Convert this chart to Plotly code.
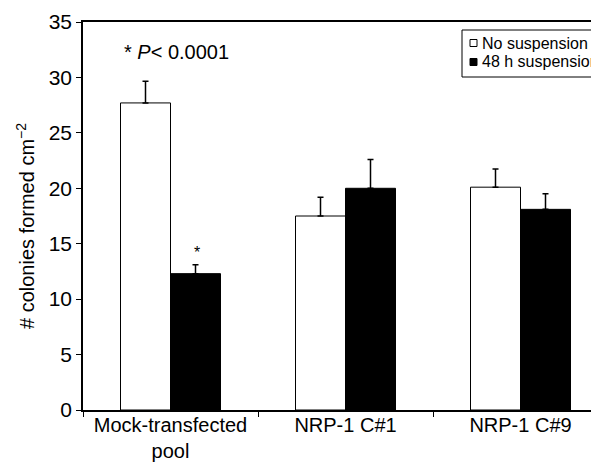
import plotly.graph_objects as go

categories = ["Mock-transfected<br>pool", "NRP-1 C#1", "NRP-1 C#9"]
no_susp = [27.7, 17.5, 20.1]
no_susp_err = [1.95, 1.7, 1.65]
susp48 = [12.3, 20.0, 18.1]
susp48_err = [0.8, 2.6, 1.4]
series_names = ["No suspension", "48 h suspension"]
y_ticks = [0, 5, 10, 15, 20, 25, 30, 35]

FONT = "Liberation Sans, Arial, sans-serif"

OFF = 8  # page body margin
W, H = 599 - OFF, 463 - OFF
ML, MR, MT, MB = 83 - OFF, 0, 22 - OFF, 53
pw = W - ML - MR
ph = H - MT - MB
cat_px = 175.0

fig = go.Figure()
fig.add_trace(go.Bar(
    x=categories, y=no_susp, name=series_names[0],
    marker=dict(color="white", line=dict(color="black", width=1)),
    error_y=dict(type="data", array=no_susp_err, arrayminus=[0]*3, symmetric=False,
                 color="black", thickness=1.5, width=3),
    showlegend=False,
))
fig.add_trace(go.Bar(
    x=categories, y=susp48, name=series_names[1],
    marker=dict(color="black", line=dict(color="black", width=1)),
    error_y=dict(type="data", array=susp48_err, arrayminus=[0]*3, symmetric=False,
                 color="black", thickness=1.5, width=3),
    showlegend=False,
))

fig.update_layout(
    width=W, height=H,
    margin=dict(l=ML, r=MR, t=MT, b=MB, pad=0, autoexpand=False),
    paper_bgcolor="white", plot_bgcolor="white",
    barmode="group", bargap=75/175, bargroupgap=0,
    font=dict(family=FONT, size=20, color="black"),
    xaxis=dict(
        type="category", range=[-0.5, -0.5 + pw / cat_px], automargin=False,
        showline=True, linecolor="black", linewidth=1.5, mirror=True,
        ticks="outside", tickson="boundaries", ticklen=5, tickcolor="black", tickwidth=1,
        showgrid=False, zeroline=False, ticklabelstandoff=-4,
        tickfont=dict(family=FONT, size=20, color="black"),
    ),
    yaxis=dict(
        range=[0, 35], tickvals=y_ticks, automargin=False,
        showline=True, linecolor="black", linewidth=1.5, mirror=False,
        ticks="outside", ticklen=5, tickcolor="black", tickwidth=1,
        showgrid=False, zeroline=False,
        tickfont=dict(family=FONT, size=21, color="black"),
    ),
)

# helpers: reference-window pixels -> paper coordinates
def px_to_paper_x(px):
    return (px - OFF - ML) / pw

def px_to_paper_y(py):
    return (H - MB - (py - OFF)) / ph

# y-axis title
fig.add_annotation(
    x=px_to_paper_x(25), y=px_to_paper_y(226), xref="paper", yref="paper",
    xanchor="center", yanchor="middle", textangle=-90, showarrow=False,
    text="# colonies formed cm<sup>−2</sup>", font=dict(family=FONT, size=20, color="black"),
)

fig.add_annotation(
    x=px_to_paper_x(122), y=px_to_paper_y(52), xref="paper", yref="paper",
    xanchor="left", yanchor="middle", showarrow=False,
    text="* <i>P</i>< 0.0001", font=dict(family=FONT, size=20, color="black"),
)
fig.add_annotation(
    x=categories[0], y=susp48[0] + susp48_err[0], xref="x", yref="y",
    xshift=26, yshift=12, showarrow=False, text="*",
    font=dict(family=FONT, size=16, color="black"),
)

# legend box
fig.add_shape(type="rect", xref="paper", yref="paper",
              x0=px_to_paper_x(462), x1=px_to_paper_x(640),
              y0=px_to_paper_y(77), y1=px_to_paper_y(30),
              line=dict(color="black", width=1), fillcolor="white")
legend_rows = [(43, "white"), (62, "black")]
for (cy, col), name in zip(legend_rows, series_names):
    fig.add_shape(type="rect", xref="paper", yref="paper",
                  x0=px_to_paper_x(470), x1=px_to_paper_x(477),
                  y0=px_to_paper_y(cy + 3.5), y1=px_to_paper_y(cy - 3.5),
                  line=dict(color="black", width=1), fillcolor=col)
    fig.add_annotation(
        x=px_to_paper_x(480), y=px_to_paper_y(cy), xref="paper", yref="paper",
        xanchor="left", yanchor="middle", showarrow=False,
        text=name, font=dict(family=FONT, size=16, color="black"),
    )

fig.write_html("out.html")
